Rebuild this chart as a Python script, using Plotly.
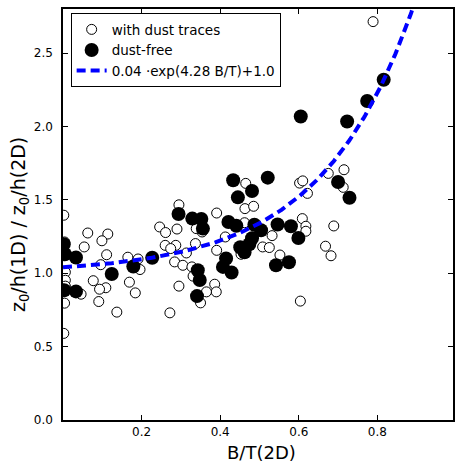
import numpy as np
import plotly.graph_objects as go

# Galaxies with dust traces (open symbols)
bt_dusty = [0.002, 0.004, 0.006, 0.006, 0.006, 0.004, 0.002, 0.046, 0.063, 0.114,
            0.099, 0.054, 0.111, 0.096, 0.165, 0.191, 0.196, 0.077, 0.109, 0.093,
            0.169, 0.184, 0.091, 0.137, 0.272, 0.295, 0.391, 0.246, 0.261, 0.290,
            0.339, 0.354, 0.413, 0.260, 0.287, 0.274, 0.337, 0.314, 0.391, 0.284,
            0.305, 0.328, 0.331, 0.295, 0.386, 0.390, 0.365, 0.350, 0.463, 0.485,
            0.465, 0.453, 0.462, 0.602, 0.610, 0.622, 0.675, 0.715, 0.713, 0.609,
            0.618, 0.618, 0.689, 0.532, 0.508, 0.525, 0.552, 0.668, 0.682, 0.604,
            0.789]
ratio_dusty = [1.395, 1.213, 1.007, 0.952, 0.912, 0.796, 0.590, 0.857, 1.274, 1.267,
               1.221, 1.179, 1.126, 1.058, 1.109, 1.097, 1.025, 0.949, 0.901, 0.891,
               0.939, 0.866, 0.807, 0.735, 0.730, 1.466, 1.410, 1.315, 1.277, 1.301,
               1.304, 1.281, 1.247, 1.190, 1.190, 1.168, 1.202, 1.138, 1.156, 1.077,
               1.054, 1.043, 0.980, 0.912, 0.925, 0.873, 0.873, 0.798, 1.440, 1.456,
               1.612, 1.129, 1.344, 1.614, 1.629, 1.544, 1.680, 1.705, 1.585, 1.372,
               1.320, 1.286, 1.322, 1.256, 1.179, 1.175, 1.124, 1.184, 1.119, 0.810,
               2.714]

# Dust-free galaxies (filled symbols)
bt_clean = [0.002, 0.005, 0.003, 0.033, 0.033, 0.124, 0.179, 0.227, 0.294, 0.329,
            0.352, 0.356, 0.421, 0.441, 0.487, 0.504, 0.481, 0.451, 0.474, 0.462,
            0.415, 0.407, 0.429, 0.343, 0.348, 0.341, 0.433, 0.445, 0.481, 0.521,
            0.605, 0.723, 0.774, 0.816, 0.700, 0.729, 0.546, 0.580, 0.599, 0.542,
            0.575]
ratio_clean = [1.197, 1.129, 0.884, 1.107, 0.876, 0.995, 1.046, 1.105, 1.403, 1.372,
               1.369, 1.304, 1.349, 1.323, 1.330, 1.293, 1.238, 1.177, 1.197, 1.143,
               1.100, 1.043, 1.005, 1.020, 0.954, 0.844, 1.633, 1.517, 1.560, 1.651,
               2.068, 2.034, 2.173, 2.318, 1.621, 1.514, 1.332, 1.320, 1.240, 1.054,
               1.075]

# Exponential fit: a*exp(b*B/T) + c
fit_a, fit_b, fit_c = 0.04, 4.28, 1.0
x_ticks = [0.2, 0.4, 0.6, 0.8]
y_ticks = [0.0, 0.5, 1.0, 1.5, 2.0, 2.5]

fit_x = np.linspace(0.0, 0.95, 300)
fit_y = fit_a * np.exp(fit_b * fit_x) + fit_c

FONT = "DejaVu Sans"

fig = go.Figure()
fig.add_trace(go.Scatter(
    x=bt_dusty, y=ratio_dusty, mode="markers", name="with dust traces",
    marker=dict(symbol="circle", size=10, color="white",
                line=dict(color="black", width=1)),
))
fig.add_trace(go.Scatter(
    x=bt_clean, y=ratio_clean, mode="markers", name="dust-free",
    marker=dict(symbol="circle", size=14, color="black",
                line=dict(color="black", width=0)),
))
fig.add_trace(go.Scatter(
    x=fit_x, y=fit_y, mode="lines",
    name=f"{fit_a:g} \u00b7exp({fit_b:g} B/T)+{fit_c:.1f}",
    line=dict(color="blue", width=4, dash="9px,5px"),
))

axis_common = dict(
    showgrid=False, zeroline=False, showline=True, linecolor="black",
    linewidth=1.5, mirror="ticks", ticks="inside", ticklen=5, tickwidth=1,
    tickcolor="black", tickfont=dict(family=FONT, size=12, color="black"),
)

fig.update_layout(
    width=455, height=462,
    margin=dict(l=63, r=0, t=9, b=42),
    paper_bgcolor="white", plot_bgcolor="white",
    font=dict(family=FONT, color="black"),
    xaxis=dict(
        range=[0, 0.9924], tickvals=x_ticks, ticktext=[f"{v:.1f}" for v in x_ticks],
        ticklabelstandoff=0,
        **axis_common,
    ),
    yaxis=dict(
        range=[0, 2.8], tickvals=y_ticks, ticktext=[f"{v:.1f}" for v in y_ticks],
        ticklabelstandoff=6,
        **axis_common,
    ),
    legend=dict(
        x=0.0196, y=0.99, xanchor="left", yanchor="top",
        bgcolor="white", bordercolor="black", borderwidth=1,
        font=dict(family=FONT, size=13.5, color="black"),
    ),
    showlegend=True,
    annotations=[
        dict(text="B/T(2D)", xref="paper", yref="paper", x=0.51, y=-0.078,
             xanchor="center", yanchor="middle", showarrow=False,
             font=dict(family=FONT, size=18, color="black")),
        dict(text="z<sub>0</sub>/h(1D) / z<sub>0</sub>/h(2D)", xref="paper",
             yref="paper", x=-0.112, y=0.475, xanchor="center", yanchor="middle",
             textangle=-90, showarrow=False,
             font=dict(family=FONT, size=19, color="black")),
    ],
)

fig.write_html("out.html")
